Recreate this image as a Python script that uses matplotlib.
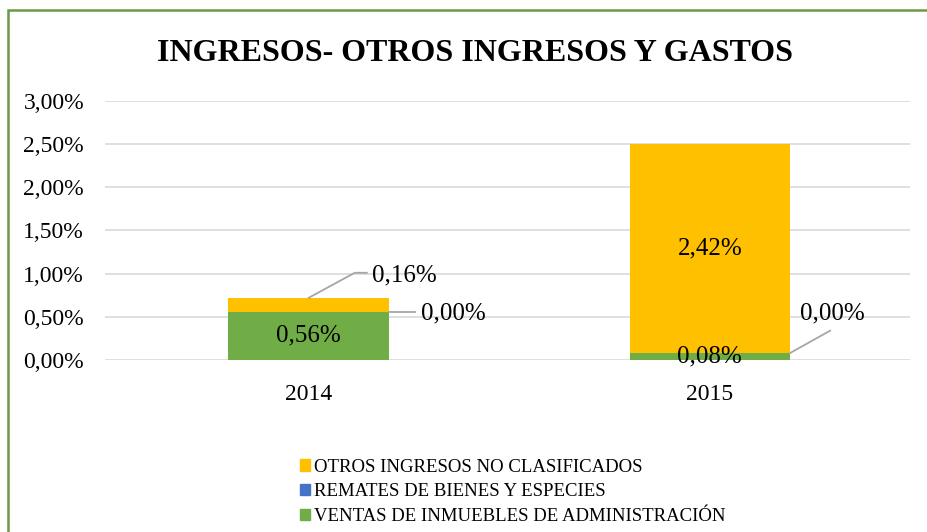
import numpy as np
import matplotlib.pyplot as plt
from matplotlib.patches import Rectangle, Patch

plt.rcParams['font.family'] = ['Liberation Serif', 'DejaVu Serif']

# Datos (porcentaje)
years = ["2014", "2015"]
ventas = [0.56, 0.08]
remates = [0.00, 0.00]
otros = [0.16, 2.42]

c_otros = "#FFC000"
c_remates = "#4472C4"
c_ventas = "#70AD47"

fig = plt.figure(figsize=(9.28, 5.32), dpi=100)
ax = fig.add_axes([0.113, 0.3233, 0.868, 0.487])

x = np.arange(len(years))
w = 0.4
b1 = np.array(ventas)
b2 = b1 + np.array(remates)
ax.bar(x, ventas, w, color=c_ventas, zorder=2)
ax.bar(x, remates, w, bottom=b1, color=c_remates, zorder=2)
ax.bar(x, otros, w, bottom=b2, color=c_otros, zorder=2)

ax.set_xlim(-0.508, 1.5)
ax.set_ylim(0, 3.0)
ax.set_yticks(np.arange(0, 3.01, 0.5))
ax.set_yticklabels([f"{v:.2f}%".replace(".", ",") for v in np.arange(0, 3.01, 0.5)])
ax.set_xticks(x)
ax.set_xticklabels(years)
ax.tick_params(length=0, labelsize=17)
ax.tick_params(axis='x', pad=17)
ax.tick_params(axis='y', pad=15)
ax.grid(axis='y', color="#D9D9D9", lw=1.2, zorder=0)
for s in ax.spines.values():
    s.set_visible(False)

def fmt(v):
    return f"{v:.2f}%".replace(".", ",")

lab = dict(fontsize=18, color="black")
lc = "#A6A6A6"

# etiquetas dentro de las barras
ax.text(0, ventas[0] / 2, fmt(ventas[0]), ha='center', va='center', **lab)
ax.text(1, b2[1] + otros[1] / 2, fmt(otros[1]), ha='center', va='center', **lab)
ax.text(1, ventas[1] / 2, fmt(ventas[1]), ha='center', va='center', **lab)

# etiquetas con línea guía
top0 = b2[0] + otros[0]
ax.plot([0.0, 0.115, 0.145], [top0, top0 + 0.29, top0 + 0.29], color=lc, lw=1.3, zorder=3)
ax.text(0.158, top0 + 0.26, fmt(otros[0]), ha='left', va='center', **lab)

ax.plot([w / 2, 0.265], [b1[0], b1[0]], color=lc, lw=1.3, zorder=3)
ax.text(0.28, b1[0] - 0.02, fmt(remates[0]), ha='left', va='center', **lab)

ax.plot([1 + w / 2, 1.3], [b1[1], b1[1] + 0.26], color=lc, lw=1.3, zorder=3)
ax.text(1.305, b1[1] + 0.46, fmt(remates[1]), ha='center', va='center', **lab)

fig.text(0.512, 0.9, "INGRESOS- OTROS INGRESOS Y GASTOS", ha='center', va='center',
         fontsize=23, fontweight='bold')

handles = [Patch(color=c_otros), Patch(color=c_remates), Patch(color=c_ventas)]
labels = ["OTROS INGRESOS NO CLASIFICADOS", "REMATES DE BIENES Y ESPECIES",
          "VENTAS DE INMUEBLES DE ADMINISTRACIÓN"]
fig.legend(handles, labels, loc='upper left', bbox_to_anchor=(0.323, 0.138),
           frameon=False, fontsize=13.5, handlelength=0.55, handleheight=0.55,
           handletextpad=0.2, labelspacing=0.42, borderpad=0, borderaxespad=0)

# marco verde
fig.patches.append(Rectangle((8 / 928, -0.1), 1.2, 1 - 10 / 532 + 0.1, transform=fig.transFigure,
                             fill=False, edgecolor="#6A9A47", lw=1.8))

fig.savefig("out.png", dpi=100)
